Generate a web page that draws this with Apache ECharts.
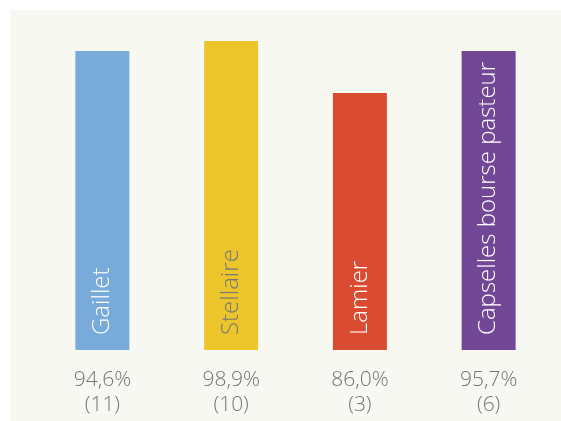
<!DOCTYPE html>
<html>
<head>
<meta charset="utf-8">
<script src="https://cdn.jsdelivr.net/npm/echarts@6/dist/echarts.min.js"></script>
<style>
  html, body { margin: 0; padding: 0; background: #ffffff; }
  #chart { position: absolute; left: 10px; top: 10px; width: 551px; height: 411px; background: #f8f8f3; }
</style>
</head>
<body>
<div id="chart"></div>
<script>
// categories and values
const categories = ["Gaillet", "Stellaire", "Lamier", "Capselles bourse pasteur"];
const barHeights = [96.8, 100, 83.2, 96.8];   // relative bar height (Stellaire = 100)
const percents = ["94,6%", "98,9%", "86,0%", "95,7%"];
const counts = [11, 10, 3, 6];
const barColors = ["#78abd9", "#ebc52a", "#d94c32", "#724896"];
const labelColors = ["#ffffff", "#77777a", "#ffffff", "#ffffff"];

const chart = echarts.init(document.getElementById("chart"));

const option = {
  animation: false,
  textStyle: { fontFamily: "Open Sans" },
  grid: { left: 28, right: 8, top: 31, bottom: 71 },
  xAxis: {
    type: "category",
    data: categories,
    axisLine: { show: false },
    axisTick: { show: false },
    axisLabel: {
      margin: 18,
      color: "#747477",
      fontSize: 21,
      lineHeight: 25,
      fontWeight: 300,
      formatter: (v, i) => percents[i] + "\n(" + counts[i] + ")"
    }
  },
  yAxis: {
    type: "value",
    min: 0,
    max: 100,
    show: false
  },
  series: [{
    type: "bar",
    barWidth: 54,
    data: barHeights.map((v, i) => ({
      value: v,
      itemStyle: { color: barColors[i] },
      label: { color: labelColors[i] }
    })),
    label: {
      show: true,
      position: "insideBottom",
      distance: 15,
      rotate: 90,
      align: "left",
      verticalAlign: "middle",
      fontSize: 24,
      fontWeight: 300,
      formatter: p => categories[p.dataIndex]
    }
  }]
};

chart.setOption(option);
</script>
</body>
</html>
